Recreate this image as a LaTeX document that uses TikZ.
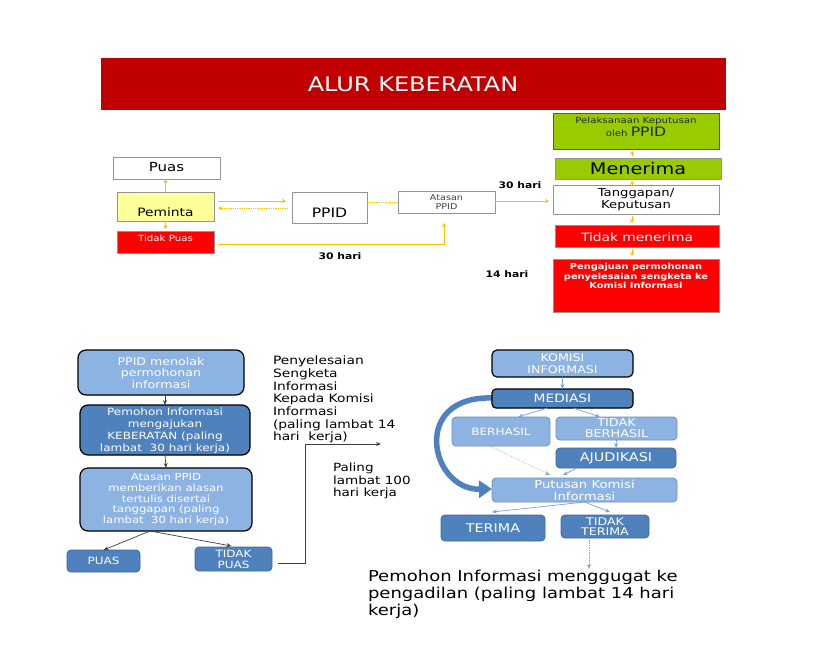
\documentclass[tikz,border=0pt]{standalone}
\usepackage{fontspec}
\setmainfont[FakeStretch=1.2]{DejaVu Sans}
\usetikzlibrary{arrows.meta,calc}
\newcommand{\myfs}[2]{\fontsize{#1}{#2}\selectfont}
\definecolor{titred}{HTML}{C00000}
\definecolor{myred}{HTML}{FF0000}
\definecolor{mygreen}{HTML}{99CC00}
\definecolor{myyellow}{HTML}{FFFF99}
\definecolor{arrowyel}{HTML}{FFC000}
\definecolor{lblue}{HTML}{8DB3E2}
\definecolor{dblue}{HTML}{4F81BD}
\definecolor{lnblue}{HTML}{7BA3D6}
\definecolor{olive}{HTML}{4F6228}
\begin{document}
\begin{tikzpicture}[x=1pt,y=-1pt,
  every node/.style={inner sep=0pt, outer sep=0pt},
  sqbox/.style={draw=gray!85, line width=1pt, anchor=north west},
  rbox/.style={draw=black, line width=1.2pt, rounded corners=8pt, anchor=north west, text=white, align=center},
  sbox/.style={draw=#1!80!black, fill=#1, line width=0.8pt, rounded corners=4pt, anchor=north west, text=white, align=center},
  yarr/.style={draw=arrowyel, line width=0.8pt, -{Stealth[length=4pt,width=4pt]}},
  garr/.style={draw=black!75, line width=0.7pt, -{Stealth[length=5pt,width=4pt]}},
  barr/.style={draw=lnblue, line width=0.7pt, -{Stealth[length=5pt,width=4pt]}},
  lbl/.style={font={\myfs{9}{11}\bfseries}}
]
\useasboundingbox (0,0) rectangle (813,654);
\fill[white] (0,0) rectangle (813,654);

% title
\node[fill=titred, minimum width=625pt, minimum height=52pt, anchor=north west] (title) at (101,58) {};
\node[text=white, font={\myfs{20}{24}}] (titletxt) at (413,84) {ALUR KEBERATAN};

% top-left
\node[sqbox, minimum width=107pt, minimum height=22pt] (puas) at (113,157) {};
\node[font={\myfs{12.5}{15}}] (puastxt) at (166.5,167) {Puas};
\node[sqbox, fill=myyellow, minimum width=97pt, minimum height=29pt] (peminta) at (117,192) {};
\node[font={\myfs{11.5}{14}}] (pemintatxt) at (165.5,212) {Peminta};
\node[sqbox, fill=myred, minimum width=97pt, minimum height=22pt] (tidakpuas) at (117,231) {};
\node[font={\myfs{8.5}{10}}, text=white] (tidakpuastxt) at (165.5,238) {Tidak Puas};
\node[sqbox, minimum width=75pt, minimum height=31pt] (ppid) at (292,192) {};
\node[font={\myfs{13}{15}}] (ppidtxt) at (329.5,213) {PPID};
\node[sqbox, minimum width=97pt, minimum height=22pt] (atasan) at (398,191) {};
\node[font={\myfs{8}{9.5}}, text=black!75, align=center] (atasantxt) at (446.5,202) {Atasan\\PPID};

% right column
\node[sqbox, draw=olive, fill=mygreen, minimum width=166pt, minimum height=36pt] (pelak) at (553,113) {};
\node[font={\myfs{8.5}{10}}, text=black!85] (pelaktxt1) at (636,121) {Pelaksanaan Keputusan};
\node[font={\myfs{8.5}{10}}, text=black!85] (pelaktxt2) at (636,132) {oleh {\myfs{13}{14}PPID}};
\node[sqbox, fill=mygreen, minimum width=166pt, minimum height=21pt] (menerima) at (555,158) {};
\node[font={\myfs{16}{18}}] (menerimatxt) at (638,168.5) {Menerima};
\node[sqbox, minimum width=166pt, minimum height=29pt] (tangg) at (553,185) {};
\node[font={\myfs{11}{12}}, align=center] (tanggtxt) at (636,199.5) {Tanggapan/\\Keputusan};
\node[sqbox, fill=myred, minimum width=164pt, minimum height=22pt] (tmenerima) at (555,225) {};
\node[font={\myfs{11.5}{13}}, text=white] (tmenerimatxt) at (637,237) {Tidak menerima};
\node[sqbox, fill=myred, minimum width=166pt, minimum height=53pt] (pengajuan) at (553,259) {};
\node[font={\myfs{8.2}{9.2}\bfseries}, text=white, align=center] (pengajuantxt) at (636,276) {Pengajuan permohonan\\penyelesaian sengketa ke\\Komisi Informasi};

\node[lbl] (l30a) at (520,185) {30 hari};
\node[lbl] (l30b) at (340,256) {30 hari};
\node[lbl] (l14) at (507,274) {14 hari};

% top arrows
\draw[yarr] (peminta.north) -- (peminta.north |- puas.south);
\draw[yarr] (peminta.south) -- ($(tidakpuas.north)+(0,-2)$);
\draw[yarr] ($(peminta.east)+(4,-5.5)$) -- ($(peminta.east -| ppid.west)+(-6,-5.5)$);
\draw[yarr, densely dotted] ($(ppid.west)+(-4,0.5)$) -- ($(peminta.east)+(4,1.5)$);
\draw[draw=arrowyel, line width=0.8pt, densely dotted] (atasan.west) -- (atasan.west -| ppid.east);
\draw[yarr] ($(tidakpuas.east)+(4,2)$) -| ($(atasan.south)+(-2.5,10)$);
\draw[yarr] ($(atasan.east)+(0,-1)$) -- ($(atasan.east -| tangg.west)+(-4,-1)$);
\draw[yarr] ($(menerima.north)+(-6,-2)$) -- ($(pelak.south)+(-4,1.5)$);
\draw[yarr] ($(tangg.north)+(-4,-0.5)$) -- ($(menerima.south)+(-6,1.5)$);
\draw[yarr] ($(tangg.south)+(-4,2)$) -- ($(tmenerima.north)+(-5,-2)$);
\draw[yarr] ($(tmenerima.south)+(-5,2)$) -- ($(pengajuan.north)+(-4,-3)$);

% bottom left
\node[rbox, fill=lblue, minimum width=166pt, minimum height=45pt] (menolak) at (78,350) {};
\node[font={\myfs{10.5}{11.7}}, text=white, align=center] (menolaktxt) at (161,373) {PPID menolak\\permohonan\\informasi};
\node[rbox, fill=dblue, minimum width=170pt, minimum height=50pt] (pemohon) at (80,405) {};
\node[font={\myfs{10}{12}}, text=white, align=center] (pemohontxt) at (165,431) {Pemohon Informasi\\mengajukan\\KEBERATAN (paling\\lambat \ 30 hari kerja)};
\node[rbox, fill=lblue, minimum width=172pt, minimum height=63pt] (atasan2) at (80,468) {};
\node[font={\myfs{9.7}{10.6}}, text=white, align=center] (atasan2txt) at (166,499.5) {Atasan PPID\\memberikan alasan\\tertulis disertai\\tanggapan (paling\\lambat \ 30 hari kerja)};
\node[sbox=dblue, minimum width=73pt, minimum height=22pt, font={\myfs{10}{11}}] (puas2) at (67,550) {PUAS};
\node[sbox=dblue, minimum width=77pt, minimum height=24pt, font={\myfs{10}{11}}] (tpuas) at (195,547) {TIDAK\\PUAS};

\draw[garr] (menolak.south -| pemohon.north) -- (pemohon.north);
\draw[garr] (pemohon.south) -- (atasan2.north);
\draw[garr] ($(atasan2.south)+(-16,0)$) -- (puas2.north);
\draw[garr] ($(atasan2.south)+(-16,0)$) -- ($(tpuas.north)+(-2,-1)$);
\coordinate (kiend) at (381,444);
\draw[garr] ($(tpuas.east)+(6,4)$) -- ++(27,0) |- (kiend);

\node[font={\myfs{11.5}{12.7}}, align=left, anchor=north west] (penyel) at (273,356) {Penyelesaian\\Sengketa\\Informasi\\Kepada Komisi\\Informasi\\(paling lambat 14\\hari \ kerja)};
\node[font={\myfs{11.3}{12.5}}, align=left, anchor=north west] (paling) at (333,463) {Paling\\lambat 100\\hari kerja};

% bottom right
\draw[draw=dblue, line width=5.5pt, -{Triangle[length=13pt,width=17pt]}] (493,398) .. controls (410,395) and (430,490) .. (492,489);
\node[rbox, fill=lblue, rounded corners=5pt, minimum width=141pt, minimum height=27pt, font={\myfs{10.5}{12}}] (komisi) at (492,350) {KOMISI\\INFORMASI};
\node[rbox, fill=dblue, rounded corners=4pt, minimum width=141pt, minimum height=19pt, font={\myfs{11.5}{13}}] (mediasi) at (492,389) {MEDIASI};
\node[sbox=lblue, minimum width=98pt, minimum height=29pt, font={\myfs{10}{11}}] (berhasil) at (452,417) {BERHASIL};
\node[sbox=lblue, minimum width=121pt, minimum height=23pt, font={\myfs{10.7}{11}}] (tberhasil) at (556,417) {TIDAK\\BERHASIL};
\node[sbox=dblue, minimum width=120pt, minimum height=20pt, font={\myfs{12}{13}}] (ajud) at (556,448) {AJUDIKASI};
\node[sbox=lblue, minimum width=185pt, minimum height=24pt, font={\myfs{11}{12}}] (putusan) at (492,478) {Putusan Komisi\\Informasi};
\node[sbox=dblue, minimum width=104pt, minimum height=26pt, font={\myfs{12}{13}}] (terima) at (441,515) {TERIMA};
\node[sbox=dblue, minimum width=88pt, minimum height=23pt, font={\myfs{10.5}{10.5}}] (tterima) at (561,515) {TIDAK\\TERIMA};

\node[font={\myfs{15}{17}}, align=left, anchor=north west] (pengadilan) at (368,570) {Pemohon Informasi menggugat ke\\pengadilan (paling lambat 14 hari\\kerja)};

\draw[barr] (komisi.south) -- (mediasi.north);
\draw[barr] ($(mediasi.south)+(-15,0)$) -- ($(berhasil.north)+(17,0)$);
\draw[barr] ($(mediasi.south)+(11,0)$) -- ($(tberhasil.north)+(-16.5,0)$);
\draw[barr] (tberhasil.south) -- (ajud.north);
\draw[barr, densely dotted, line width=0.5pt] ($(berhasil.south)+(-11,0)$) -- ($(putusan.north)+(-34.5,-3)$);
\draw[barr] ($(ajud.south)+(-39,0)$) -- ($(putusan.north)+(-21.5,-3)$);
\draw[barr] ($(putusan.south)+(0.5,0)$) -- ($(terima.north)+(-1,-3)$);
\draw[barr] (putusan.south) -- ($(tterima.north)+(5,-3)$);
\draw[barr, densely dotted] ($(tterima.south)+(-16,0)$) -- ($(tterima.south |- pengadilan.north)+(-16,-1)$);
\end{tikzpicture}
\end{document}
